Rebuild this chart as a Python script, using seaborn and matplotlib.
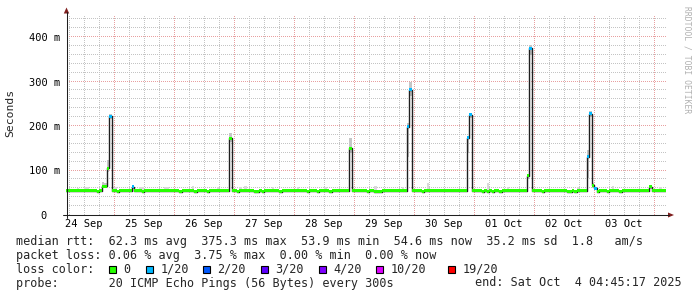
import numpy as np
import matplotlib
matplotlib.use("Agg")
import matplotlib.pyplot as plt
import seaborn as sns
import pandas as pd
from matplotlib.lines import Line2D
from matplotlib.patches import Polygon, Rectangle

# ---------------- data ----------------
day_labels = ["24 Sep", "25 Sep", "26 Sep", "27 Sep", "28 Sep",
              "29 Sep", "30 Sep", "01 Oct", "02 Oct", "03 Oct"]
ytick_values = [0, 100, 200, 300, 400]
ytick_labels = ["0  ", "100 m", "200 m", "300 m", "400 m"]

# hourly median RTT (ms); hours counted from 24 Sep 00:00
base_rtt = 55.0
dip_hours = [17, 25, 35, 50, 56, 61, 73, 80, 81, 83, 90, 101, 105, 110, 125,
             128, 129, 130, 147, 171, 173, 175, 178, 195, 205, 206, 208, 217,
             221, 226]
dip_rtt = 52.8

spike_hours = [19, 20, 21, 22, 31, 70, 118, 141, 142, 165, 166, 189, 190,
               213, 214, 215, 216, 238]
spike_rtt = [65, 65, 105, 222, 64, 173, 150, 198, 281, 174, 225, 88, 375,
             131, 228, 67, 60, 63]
spike_loss = [0, 0, 0, 1, 1, 0, 0, 1, 1, 1, 1, 0, 1, 1, 1, 0, 1, 0]
spike_smoke_lo = [60, 60, 97, 216, 58, 165, 140, 131, 268, 139, 218, 80,
                  360, 83, 220, 60, 56, 58]
spike_smoke_hi = [75, 72, 124, 226, 66, 184, 173, 206, 300, 178, 230, 92,
                  382, 146, 233, 72, 64, 68]

bump_hours = [9, 12, 13, 24, 34, 35, 44, 45, 55, 65, 74, 76, 87, 97, 108,
              128, 139, 149, 173, 181, 209, 223, 242]
bump_top = [61, 62, 62, 64, 63, 63, 64, 64, 65, 64, 63, 65, 64, 64, 63, 65,
            64, 71, 72, 63, 63, 66, 63]

loss_labels = ["0", "1/20", "2/20", "3/20", "4/20", "10/20", "19/20"]
loss_colors = ["#26ff00", "#00b8ff", "#0059ff", "#5e00ff", "#7e00ff",
               "#dd00ff", "#ff0000"]

stats_line = ("median rtt:  62.3 ms avg  375.3 ms max  53.9 ms min  "
              "54.6 ms now  35.2 ms sd  1.8   am/s")
loss_line = "packet loss: 0.06 % avg  3.75 % max  0.00 % min  0.00 % now"
probe_line = "probe:       20 ICMP Echo Pings (56 Bytes) every 300s"
end_line = "end: Sat Oct  4 04:45:17 2025"
watermark = "RRDTOOL / TOBI OETIKER"

# ---------------- build series ----------------
hours = np.arange(0, 246)
median = np.full(hours.shape, base_rtt)
median[dip_hours] = dip_rtt
median[spike_hours] = spike_rtt
loss = np.zeros(hours.shape, dtype=int)
loss[spike_hours] = spike_loss
df = pd.DataFrame({"hour": hours, "median": median, "loss": loss})

# ---------------- style ----------------
sns.set_style("white")
plt.rcParams["font.family"] = ["DejaVu Sans Mono", "DejaVu Sans"]

W, H = 697, 297
fig = plt.figure(figsize=(W / 100, H / 100), dpi=100)
fig.patch.set_facecolor("white")


def fx(x):
    return x / W


def fy(y):
    return 1 - y / H


AX_L, AX_R, AX_T, AX_B = 66, 666, 15, 215
ax = fig.add_axes([fx(AX_L), fy(AX_B), (AX_R - AX_L) / W, (AX_B - AX_T) / H])
ax.set_facecolor("white")
x0, x1 = 4.75, 244.75
ymax = 200 / 0.445
ax.set_xlim(x0, x1)
ax.set_ylim(0, ymax)
for s in ax.spines.values():
    s.set_visible(False)

GRID = "#c4c4c4"
MGRID = "#e8a0a0"
AXIS = "#1f1f1f"
ARROW = "#801f1f"

# dotted grid: one pixel on, one pixel off (pixel markers)
minor_v = [h for h in range(6, 245, 6) if h % 24 != 0]
major_v = list(range(24, 245, 24))
minor_h = [v for v in range(20, 450, 20) if v % 100 != 0]
major_h = [100, 200, 300, 400]
px_h = (x1 - x0) / (AX_R - AX_L)      # hours per pixel
px_v = ymax / (AX_B - AX_T)           # ms per pixel
ydots = np.arange(0.5, AX_B - AX_T, 2) * px_v
xdots = x0 + np.arange(0.5, AX_R - AX_L, 2) * px_h


def dotted(vpos, hpos, color, z):
    xs = np.concatenate([np.full(ydots.shape, v) for v in vpos] +
                        [xdots for _ in hpos])
    ys = np.concatenate([ydots for _ in vpos] +
                        [np.full(xdots.shape, h) for h in hpos])
    ax.plot(xs, ys, ",", color=color, zorder=z, antialiased=False)


dotted(minor_v, minor_h, GRID, 0)
dotted(major_v, major_h, MGRID, 0.5)

# smoke
ax.bar(bump_hours, np.array(bump_top) - base_rtt, bottom=base_rtt, width=1,
       align="edge", color="#d9d9d9", lw=0, zorder=1)
lo = np.array(spike_smoke_lo, dtype=float)
hi = np.array(spike_smoke_hi, dtype=float)
ax.bar(spike_hours, hi - lo, bottom=lo, width=1, align="edge",
       color="#c6c6c6", lw=0, zorder=1)

# median line
sns.lineplot(data=df, x="hour", y="median", drawstyle="steps-post",
             color="#202020", lw=1.0, ax=ax, estimator=None, zorder=2)

# loss-coloured median bands
band = 3 / 0.445
for k, col in enumerate(loss_colors):
    m = df["loss"] == k
    if m.any():
        ax.bar(df.loc[m, "hour"], band, bottom=df.loc[m, "median"] - band / 2,
               width=1, align="edge", color=col, lw=0, zorder=3)

# ticks
ax.set_yticks(ytick_values)
ax.set_yticklabels(ytick_labels)
ax.set_xticks([12 + 24 * i for i in range(len(day_labels))])
ax.set_xticklabels(day_labels)
ax.set_xticks(major_v, minor=True)
ax.tick_params(axis="y", which="major", length=1.5, width=0.72, color=AXIS,
               pad=2.8, labelsize=7.5, labelcolor="black")
ax.tick_params(axis="x", which="major", length=0, pad=3.0, labelsize=7.5,
               labelcolor="black")
ax.tick_params(axis="x", which="minor", length=2, width=0.72, color=MGRID)
ax.set_xlabel("")
ax.set_ylabel("")

# axis lines and arrows
fig.add_artist(Line2D([fx(63), fx(669)], [fy(215), fy(215)], color=AXIS,
                      lw=0.75, transform=fig.transFigure))
fig.add_artist(Polygon([[fx(668), fy(212.5)], [fx(674), fy(215)],
                        [fx(668), fy(217.5)]], closed=True, color=ARROW,
                       lw=0, transform=fig.transFigure))
fig.add_artist(Line2D([fx(66.5), fx(66.5)], [fy(218), fy(12)], color=AXIS,
                      lw=0.75, transform=fig.transFigure))
fig.add_artist(Polygon([[fx(63.8), fy(13.5)], [fx(66.5), fy(7.5)],
                        [fx(69.2), fy(13.5)]], closed=True, color=ARROW,
                       lw=0, transform=fig.transFigure))

# y label and watermark
fig.text(fx(10), fy(113), "Seconds", rotation=90, ha="center", va="center",
         fontsize=8.2)
fig.text(fx(687), fy(60), watermark, rotation=270, ha="center",
         va="center", fontsize=5.8, color="#b0b0b0")

# legend lines
LEG = 8.47
fig.text(fx(16.5), fy(241.7), stats_line, ha="left", va="center",
         fontsize=LEG)
fig.text(fx(16.5), fy(255.6), loss_line, ha="left", va="center",
         fontsize=LEG)
fig.text(fx(16.5), fy(269.4), "loss color:", ha="left", va="center",
         fontsize=LEG)
box_x = [109, 146, 203, 261, 318.5, 376, 448]
for bx, lab, col in zip(box_x, loss_labels, loss_colors):
    fig.add_artist(Rectangle((fx(bx), fy(273)), 7 / W, 7.5 / H,
                             facecolor=col, edgecolor="black", lw=0.8,
                             transform=fig.transFigure))
    fig.text(fx(bx + 14.5), fy(269.4), lab, ha="left", va="center",
             fontsize=LEG)
fig.text(fx(16.5), fy(283.0), probe_line, ha="left", va="center",
         fontsize=LEG)
fig.text(fx(681.5), fy(283.0), end_line, ha="right", va="center",
         fontsize=LEG)

fig.savefig("out.png", dpi=100, facecolor="white")
